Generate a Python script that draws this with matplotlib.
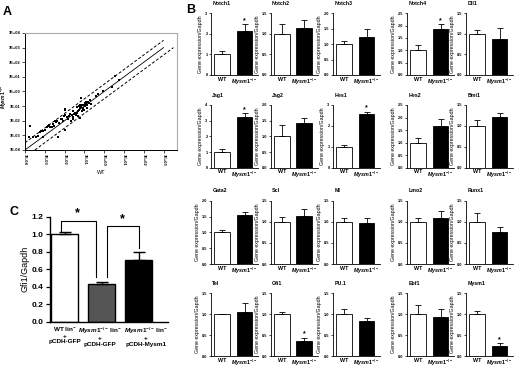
import matplotlib
matplotlib.use("Agg")
import matplotlib.pyplot as plt

plt.rcParams['font.family'] = ['Liberation Sans', 'DejaVu Sans']
plt.rcParams['font.weight'] = 'bold'
plt.rcParams['mathtext.fontset'] = 'custom'
plt.rcParams['mathtext.rm'] = 'Liberation Sans:bold'
plt.rcParams['mathtext.it'] = 'Liberation Sans:italic:bold'
plt.rcParams['mathtext.bf'] = 'Liberation Sans:bold'

# ---- panel A: log10 expression, WT vs Mysm1-/- ----
a_wt = [-3.75, -3.78, -3.6, -3.45, -3.35, -3.25, -3.18, -3.1, -3.0, -3.07,
        -2.9, -2.85, -2.8, -2.75, -2.6, -2.5, -2.45, -2.4, -2.32, -2.3,
        -2.2, -2.15, -2.1, -2.05, -2.0, -1.98, -1.96, -2.0, -1.9, -1.85,
        -1.8, -1.75, -1.7, -1.65, -1.6, -1.55, -1.5, -1.45, -1.4, -1.35,
        -1.32, -1.3, -1.25, -1.2, -1.2, -1.17, -1.15, -1.12, -1.1, -1.05,
        -1.0, -0.95, -0.92, -0.9, -0.85, -0.8, -0.75, -0.7, -0.65, -1.28,
        -1.22, -1.08, -0.98, -0.88, -1.38, -1.02, -0.41, -0.04, 0.38, 0.55,
        0.75, -0.3, -2.55, -2.65, -1.58]
a_ko = [-2.35, -3.12, -3.08, -3.1, -3.05, -2.75, -2.7, -2.7, -2.62, -3.08,
        -2.4, -2.35, -2.3, -2.45, -2.2, -2.05, -2.1, -2.0, -3.08, -2.15,
        -1.85, -1.9, -2.0, -1.7, -1.6, -1.2, -1.28, -2.62, -1.75, -1.85,
        -1.7, -1.55, -2.0, -1.6, -1.3, -1.75, -1.55, -1.45, -1.6, -1.5,
        -1.7, -1.35, -1.25, -1.8, -1.15, -0.45, -1.05, -1.3, -0.95, -1.1,
        -0.9, -1.0, -0.85, -0.75, -0.95, -0.7, -0.8, -0.6, -0.85, -1.0,
        -0.92, -1.2, -0.8, -1.1, -1.05, -1.25, -0.34, 0.0, 0.3, 1.08,
        0.8, -0.2, -2.35, -2.4, -1.9]
a_ticks = [-4, -3, -2, -1, 0, 1, 2, 3, 4]
a_ticklabels = ['1E-04', '1E-03', '1E-02', '1E-01', '1E+00', '1E+01', '1E+02', '1E+03', '1E+04']

# ---- panel B: qPCR, gene expression / Gapdh ----
genes = ['Notch1', 'Notch2', 'Notch3', 'Notch4', 'Dll1',
         'Jag1', 'Jag2', 'Hes1', 'Hes2', 'Bmi1',
         'Gata2', 'Scl', 'Ml', 'Lmo2', 'Runx1',
         'Tel', 'Gfi1', 'PU.1', 'Ebf1', 'Mysm1']
wt_mean = [1.0] * 20
wt_err = [0.15, 0.24, 0.1, 0.2, 0.1,
          0.2, 0.37, 0.07, 0.17, 0.14,
          0.09, 0.11, 0.1, 0.1, 0.22,
          0.01, 0.06, 0.12, 0.22, 0.08]
ko_mean = [2.16, 1.15, 1.23, 1.85, 0.87,
           3.22, 1.41, 2.55, 1.65, 1.21,
           1.55, 1.13, 0.97, 1.08, 0.77,
           1.05, 0.35, 0.83, 0.94, 0.23]
ko_err = [0.32, 0.19, 0.25, 0.2, 0.27,
          0.24, 0.19, 0.12, 0.3, 0.1,
          0.09, 0.17, 0.12, 0.17, 0.1,
          0.21, 0.09, 0.08, 0.18, 0.08]
y_top = [3, 1.5, 2.0, 2.5, 1.5,
         4, 2.0, 3, 2.5, 1.5,
         2.0, 1.5, 1.5, 1.5, 1.5,
         1.5, 1.5, 1.5, 1.5, 1.5]
starred = ['Notch1', 'Notch4', 'Jag1', 'Hes1', 'Gfi1', 'Mysm1']

# ---- panel C: Gfi1 rescue ----
c_groups = ['WT lin$^{-}$\n+\npCDH-GFP',
            '$\\mathit{Mysm1}^{-/-}$ lin$^{-}$\n+\npCDH-GFP',
            '$\\mathit{Mysm1}^{-/-}$ lin$^{-}$\n+\npCDH-Mysm1']
c_vals = [1.0, 0.43, 0.70]
c_errs = [0.03, 0.02, 0.10]
c_colors = ['white', '#555555', 'black']

W, H = 520, 368
fig = plt.figure(figsize=(W / 100, H / 100), dpi=100)


def box(l, t, r, b):
    return fig.add_axes([l / W, 1 - b / H, (r - l) / W, (b - t) / H])


ko_lbl = '$\\mathit{Mysm1}^{-/-}$'

# panel A
axA = box(25, 33, 177, 150)
axA.scatter(a_wt, a_ko, s=3.5, marker='s', color='black', linewidths=0)
axA.plot([-4, 3], [-4, 3], color='black', lw=0.6)
axA.plot([-4, 3], [-3.5, 3.5], color='black', lw=0.7, ls=(0, (3, 2)))
axA.plot([-3.5, 3.5], [-4, 3], color='black', lw=0.7, ls=(0, (3, 2)))
axA.set_xlim(-4, 3.68)
axA.set_ylim(-4, 4)
axA.set_yticks(a_ticks)
axA.set_yticklabels(a_ticklabels, fontsize=2.9)
axA.set_xticks(a_ticks[:-1])
axA.set_xticklabels(a_ticklabels[:-1], fontsize=2.9, rotation=270)
axA.tick_params(length=2, width=0.5, pad=1.2)
for s in ['top', 'right']:
    axA.spines[s].set_color('#aaaaaa')
    axA.spines[s].set_linewidth(0.8)
for s in ['left', 'bottom']:
    axA.spines[s].set_linewidth(0.7)
axA.set_xlabel('WT', fontsize=4, labelpad=3)
fig.text(4 / W, 1 - 97 / H, ko_lbl, fontsize=3.6, rotation=90,
         ha='center', va='center')
fig.text(3 / W, 1 - 12 / H, 'A', fontsize=9, fontweight='bold', va='center')

# panel B
col_left = [211, 270.5, 333, 407, 466]
row_top = [13.3, 105, 200.7, 293.3]
row_bot = [75, 167.7, 264, 356]
for i, g in enumerate(genes):
    r, c = divmod(i, 5)
    ax = box(col_left[c], row_top[r], col_left[c] + 47, row_bot[r])
    ax.bar([0, 1], [wt_mean[i], ko_mean[i]], width=0.7,
           color=['white', 'black'], edgecolor='black', linewidth=0.6)
    ax.errorbar([0, 1], [wt_mean[i], ko_mean[i]],
                yerr=[[0, 0], [wt_err[i], ko_err[i]]],
                fmt='none', ecolor='black', elinewidth=0.6, capsize=2.2, capthick=0.6)
    if g in starred:
        ax.text(1, ko_mean[i] + ko_err[i] + 0.06 * y_top[i], '*',
                ha='center', va='center', fontsize=5)
    top = y_top[i]
    ax.set_ylim(0, top)
    ax.set_xlim(-0.5, 1.6)
    if top in (3, 4):
        ticks = list(range(0, top + 1))
        labels = [str(t) for t in ticks]
    else:
        n = int(round(top / 0.5))
        ticks = [k * 0.5 for k in range(n + 1)]
        labels = ['%.1f' % t for t in ticks]
    ax.set_yticks(ticks)
    ax.set_yticklabels(labels, fontsize=2.8)
    ax.set_xticks([0, 1])
    ax.set_xticklabels(['WT', ko_lbl], fontsize=3.9)
    ax.tick_params(axis='y', length=1.5, width=0.5, pad=1)
    ax.tick_params(axis='x', length=0, pad=1.2)
    for s in ['top', 'right']:
        ax.spines[s].set_visible(False)
    for s in ['left', 'bottom']:
        ax.spines[s].set_linewidth(0.6)
    ax.set_ylabel('Gene expression/Gapdh', fontsize=3.8, labelpad=1.5)
    ax.set_title(g, fontsize=3.8, fontweight='bold', loc='left', x=0.03, pad=6)
fig.text(186 / W, 1 - 10 / H, 'B', fontsize=9, fontweight='bold', va='center')

# panel C
axC = box(50, 216.7, 168, 321.7)
axC.bar([0, 1, 2], c_vals, width=0.73, color=c_colors,
        edgecolor='black', linewidth=1.0)
axC.errorbar([0, 1, 2], c_vals, yerr=[[0, 0, 0], c_errs], fmt='none',
             ecolor='black', elinewidth=1.0, capsize=4, capthick=1.0)
axC.set_xlim(-0.4, 2.8)
axC.set_ylim(0, 1.2)
axC.set_yticks([0, 0.2, 0.4, 0.6, 0.8, 1.0, 1.2])
axC.set_yticklabels(['%.1f' % v for v in [0, 0.2, 0.4, 0.6, 0.8, 1.0, 1.2]], fontsize=6)
axC.set_xticks([])
# group labels, the last one sits right of its bar as in the original
for xpos, lbl in zip([0.0, 0.95, 2.2], c_groups):
    axC.text(xpos, -0.04, lbl, ha='center', va='top', fontsize=4.6,
             linespacing=1.05, transform=axC.get_xaxis_transform())
axC.tick_params(axis='y', length=3, width=0.9, pad=1.5)
for s in ['top', 'right']:
    axC.spines[s].set_visible(False)
for s in ['left', 'bottom']:
    axC.spines[s].set_linewidth(1.0)
axC.set_ylabel('Gfi1/Gapdh', fontsize=6.5, labelpad=2)
# significance brackets
axC.plot([-0.1, -0.1, 0.85, 0.85], [1.04, 1.155, 1.155, 0.51],
         color='black', lw=0.8, clip_on=False)
axC.plot([1.15, 1.15, 2.0, 2.0], [0.51, 1.09, 1.09, 0.84],
         color='black', lw=0.8, clip_on=False)
axC.text(0.35, 1.24, '*', ha='center', va='center', fontsize=9, clip_on=False)
axC.text(1.57, 1.17, '*', ha='center', va='center', fontsize=9, clip_on=False)
fig.text(9 / W, 1 - 212 / H, 'C', fontsize=9, fontweight='bold', va='center')

fig.savefig('out.png', dpi=100)
